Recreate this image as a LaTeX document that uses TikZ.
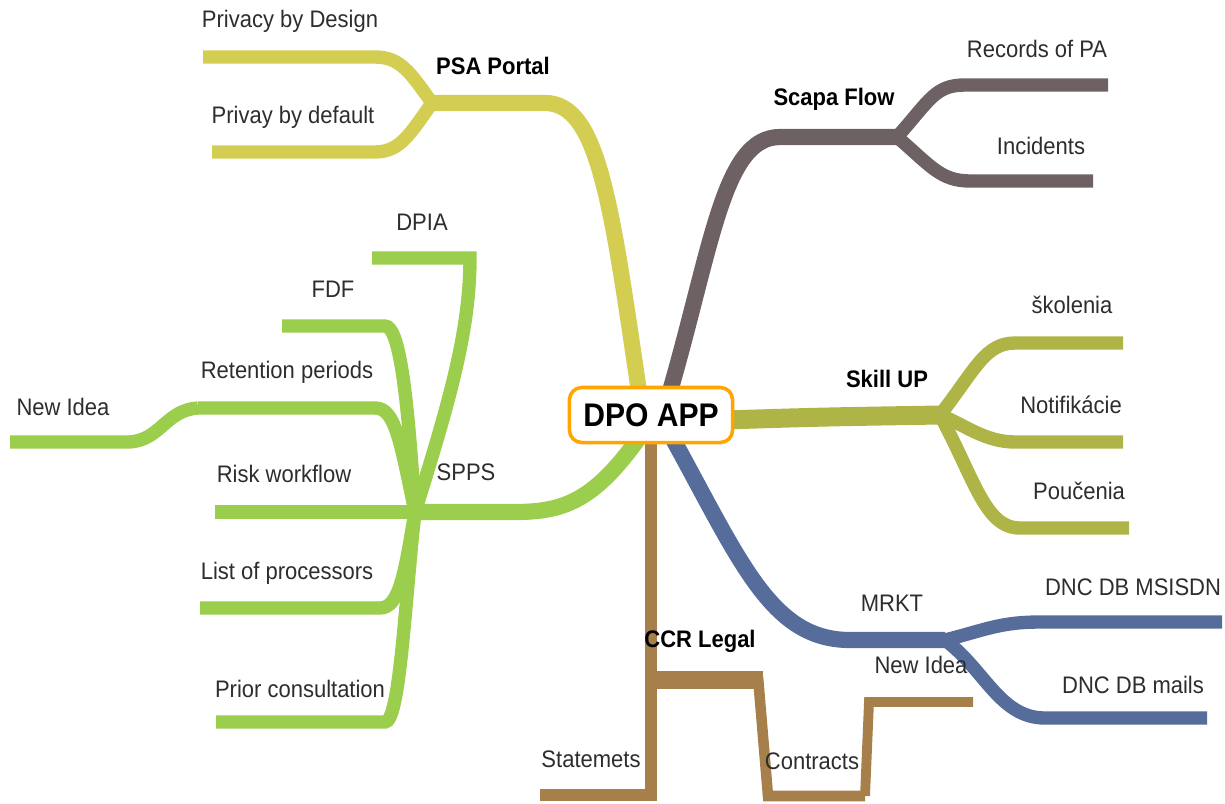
\documentclass[tikz,border=0pt]{standalone}
\usepackage{fontspec}
\setmainfont[FakeStretch=0.92]{Liberation Sans}
\usepackage{xcolor}
\usepackage{tikz}
\usetikzlibrary{positioning,calc,backgrounds}

\definecolor{psacol}{RGB}{211,206,82}
\definecolor{scapacol}{RGB}{110,97,99}
\definecolor{skillcol}{RGB}{174,180,70}
\definecolor{mrktcol}{RGB}{86,109,155}
\definecolor{sppscol}{RGB}{155,206,76}
\definecolor{ccrcol}{RGB}{166,127,75}
\definecolor{rootcol}{RGB}{255,165,0}
\definecolor{lblcol}{RGB}{45,45,45}

\begin{document}
\begin{tikzpicture}[x=0.01cm,y=-0.01cm,
    lbl/.style={text=lblcol,font=\fontsize{6.8}{8}\selectfont,inner sep=0pt},
    topic/.style={text=black,font=\fontsize{6.8}{8}\selectfont\bfseries,inner sep=0pt},
    rootbox/.style={draw=rootcol,line width=1pt,rounded corners=3.5pt,fill=white,
        minimum width=1.63cm,minimum height=0.55cm,inner sep=0pt,
        font=\fontsize{9.3}{11}\selectfont\bfseries},
    br/.style={line width=3.8pt},
    trunk/.style={line width=4.6pt}]

    \useasboundingbox (0,0) rectangle (1225,803);

    \node[rootbox] (dpo) at (651,415) {DPO APP};

    % junctions of the branches
    \coordinate (psa) at (432,103);
    \coordinate (scapa) at (897,137);
    \coordinate (skill) at (940,415);
    \coordinate (mrkt) at (945,640);
    \coordinate (spps) at (415,512);
    \coordinate (ccr) at (651,680);
    \coordinate (ret) at (198,408);
    \coordinate (ccrend) at (763,680);
    \coordinate (contr) at (865,796);

    \begin{scope}[on background layer]
    % PSA Portal
    \draw[trunk,psacol] ($(dpo.center)+(-10,-10)$) .. controls (612,210) and (600,103) .. (545,103) -- (psa);
    \draw[br,psacol] (psa) .. controls (410,72) and (400,57) .. (375,57) -- (203,57);
    \draw[br,psacol] (psa) .. controls (410,134) and (400,152) .. (375,152) -- (212,152);

    % Scapa Flow
    \draw[trunk,scapacol] ($(dpo.center)+(15,-10)$) .. controls (712,250) and (722,137) .. (780,137) -- (scapa);
    \draw[br,scapacol] (scapa) .. controls (930,100) and (935,85) .. (965,85) -- (1108,85);
    \draw[br,scapacol] (scapa) .. controls (930,165) and (940,181) .. (970,181) -- (1093,181);

    % Skill UP
    \draw[skillcol,line width=5.4pt] ($(dpo.east)+(-10,5)$) .. controls (820,417) .. (skill);
    \draw[br,skillcol] (skill) .. controls (975,370) and (985,343) .. (1015,343) -- (1123,343);
    \draw[br,skillcol] (skill) .. controls (965,425) and (985,442) .. (1015,442) -- (1123,442);
    \draw[br,skillcol] (skill) .. controls (975,480) and (985,528) .. (1020,528) -- (1129,528);

    % MRKT
    \draw[trunk,mrktcol] ($(dpo.center)+(17,15)$) .. controls (740,560) and (770,640) .. (850,640) -- (mrkt);
    \draw[br,mrktcol] (mrkt) .. controls (985,630) and (1000,622) .. (1040,622) -- (1222,622);
    \draw[br,mrktcol] (mrkt) .. controls (985,670) and (1000,718) .. (1045,718) -- (1207,718);

    % SPPS
    \draw[trunk,sppscol] ($(dpo.center)+(-10,20)$) .. controls (595,500) and (565,512) .. (515,512) -- (spps);
    \draw[br,sppscol] (spps) .. controls (450,400) and (470,330) .. (470,258) -- (372,258);
    \draw[br,sppscol] (spps) .. controls (408,400) and (400,326) .. (385,326) -- (282,326);
    \draw[br,sppscol] (spps) .. controls (400,440) and (395,408) .. (375,408) -- (ret);
    \draw[br,sppscol] (ret) .. controls (165,410) and (160,442) .. (127,442) -- (10,442);
    \draw[br,sppscol] (spps) -- (215,512);
    \draw[br,sppscol] (spps) .. controls (405,570) and (400,608) .. (380,608) -- (200,608);
    \draw[br,sppscol] (spps) .. controls (405,600) and (400,722) .. (385,722) -- (216,722);

    % CCR Legal
    \draw[ccrcol,line width=3.2pt] ($(dpo.center)+(0,20)$) -- (ccr);
    \draw[ccrcol,line width=5pt] ($(ccr)+(-6,0)$) -- (ccrend);
    \draw[ccrcol,line width=3.4pt] (ccr) -- (651,795) -- (540,795);
    \draw[ccrcol,line width=3pt] ($(ccrend)+(-5,-3)$) -- (768,796) -- (contr);
    \draw[ccrcol,line width=2.8pt] (contr) -- (869,702) -- (973,702);
    \end{scope}

    % Labels of the topics
    \node[topic] (psal) at (493,66) {PSA Portal};
    \node[topic] (scapal) at (834,99) {Scapa Flow};
    \node[topic] (skilll) at (887,379) {Skill UP};
    \node[topic] (ccrl) at (700,641) {CCR Legal};
    \node[lbl] (mrktl) at (892,603) {MRKT};
    \node[lbl] (sppsl) at (466,472) {SPPS};

    % Labels of the leaves
    \node[lbl] (pbd) at (290,21) {Privacy by Design};
    \node[lbl] (pbdf) at (293,117) {Privay by default};
    \node[lbl] (rec) at (1037,49) {Records of PA};
    \node[lbl] (inc) at (1041,146) {Incidents};
    \node[lbl] (skol) at (1072,305) {školenia};
    \node[lbl] (noti) at (1071,405) {Notifikácie};
    \node[lbl] (pouc) at (1079,491) {Poučenia};
    \node[lbl] (dncm) at (1133,587) {DNC DB MSISDN};
    \node[lbl] (dncmail) at (1133,685) {DNC DB mails};
    \node[lbl] (newb) at (921,665) {New Idea};
    \node[lbl] (stat) at (591,759) {Statemets};
    \node[lbl] (cont) at (812,761) {Contracts};
    \node[lbl] (dpia) at (422,222) {DPIA};
    \node[lbl] (fdf) at (333,289) {FDF};
    \node[lbl] (retl) at (287,372) {Retention periods};
    \node[lbl] (newa) at (63,407) {New Idea};
    \node[lbl] (risk) at (284,474) {Risk workflow};
    \node[lbl] (list) at (287,573) {List of processors};
    \node[lbl] (prior) at (300,689) {Prior consultation};
\end{tikzpicture}
\end{document}
